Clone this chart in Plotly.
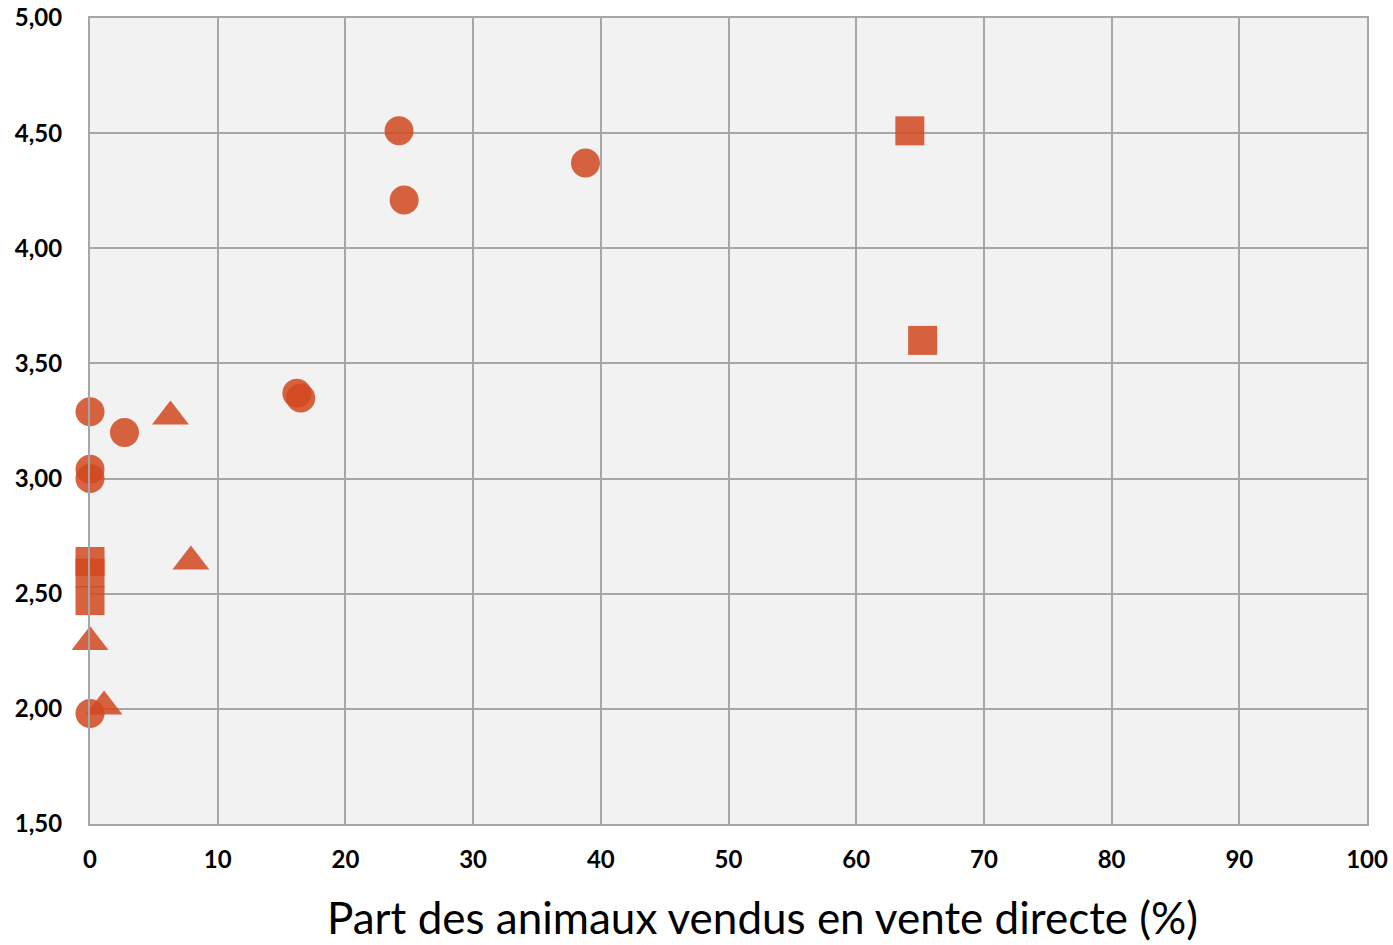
import plotly.graph_objects as go

# Circles
circle_x = [24.2, 38.8, 24.6, 16.2, 16.5, 0.0, 2.7, 0.0, 0.0, 0.0]
circle_y = [4.51, 4.37, 4.21, 3.37, 3.35, 3.29, 3.20, 3.04, 3.00, 1.98]
# Triangles
tri_x = [6.3, 7.9, 0.0, 1.1]
tri_y = [3.27, 2.64, 2.29, 2.01]
# Squares
sq_x = [64.2, 65.2, 0.0, 0.0, 0.0]
sq_y = [4.51, 3.60, 2.64, 2.59, 2.47]

x_ticks = list(range(0, 101, 10))
y_ticks = [1.5, 2.0, 2.5, 3.0, 3.5, 4.0, 4.5, 5.0]
x_title = "Part des animaux vendus en vente directe (%)"

color = "rgb(209,72,30)"
grid = "#A6A6A6"

fig = go.Figure()
fig.add_trace(go.Scatter(x=circle_x, y=circle_y, mode="markers",
                         marker=dict(symbol="circle", size=29, color=color, opacity=0.85,
                                     line=dict(width=0)), cliponaxis=False))
fig.add_trace(go.Scatter(x=tri_x, y=tri_y, mode="markers",
                         marker=dict(symbol="triangle-up", size=32, color=color, opacity=0.85,
                                     line=dict(width=0)), cliponaxis=False))
fig.add_trace(go.Scatter(x=sq_x, y=sq_y, mode="markers",
                         marker=dict(symbol="square", size=29, color=color, opacity=0.85,
                                     line=dict(width=0)), cliponaxis=False))

fig.update_layout(
    width=1393, height=945,
    margin=dict(l=90, r=26, t=18, b=121, autoexpand=False),
    paper_bgcolor="white", plot_bgcolor="#F2F2F2",
    showlegend=False,
    separators=",.",
    font=dict(family="Lato, Open Sans, sans-serif", color="black"),
)
fig.add_annotation(text=x_title, xref="paper", yref="paper", x=0.527, y=0,
                   xanchor="center", yanchor="middle", yshift=-93, showarrow=False,
                   borderpad=0, font=dict(size=44, family="Lato"))
fig.update_xaxes(range=[0, 100], tickvals=x_ticks, showgrid=True, gridcolor=grid, gridwidth=2,
                 zeroline=False, showline=True, linecolor=grid, linewidth=2, mirror=True,
                 ticks="", ticklabelstandoff=13, automargin=False, ticklabeloverflow="allow",
                 tickfont=dict(size=24, family="Lato", weight="bold"))
fig.update_yaxes(range=[1.5, 5.0], tickvals=y_ticks, tickformat=".2f", showgrid=True,
                 gridcolor=grid, gridwidth=2, zeroline=False, showline=True, linecolor=grid,
                 linewidth=2, mirror=True, ticks="", ticklabelstandoff=21, automargin=False,
                 ticklabeloverflow="allow",
                 tickfont=dict(size=24, family="Lato", weight="bold"))

fig.write_html("out.html", config={"displayModeBar": False},
               post_script="document.body.style.margin='0';document.body.style.overflow='hidden';")
